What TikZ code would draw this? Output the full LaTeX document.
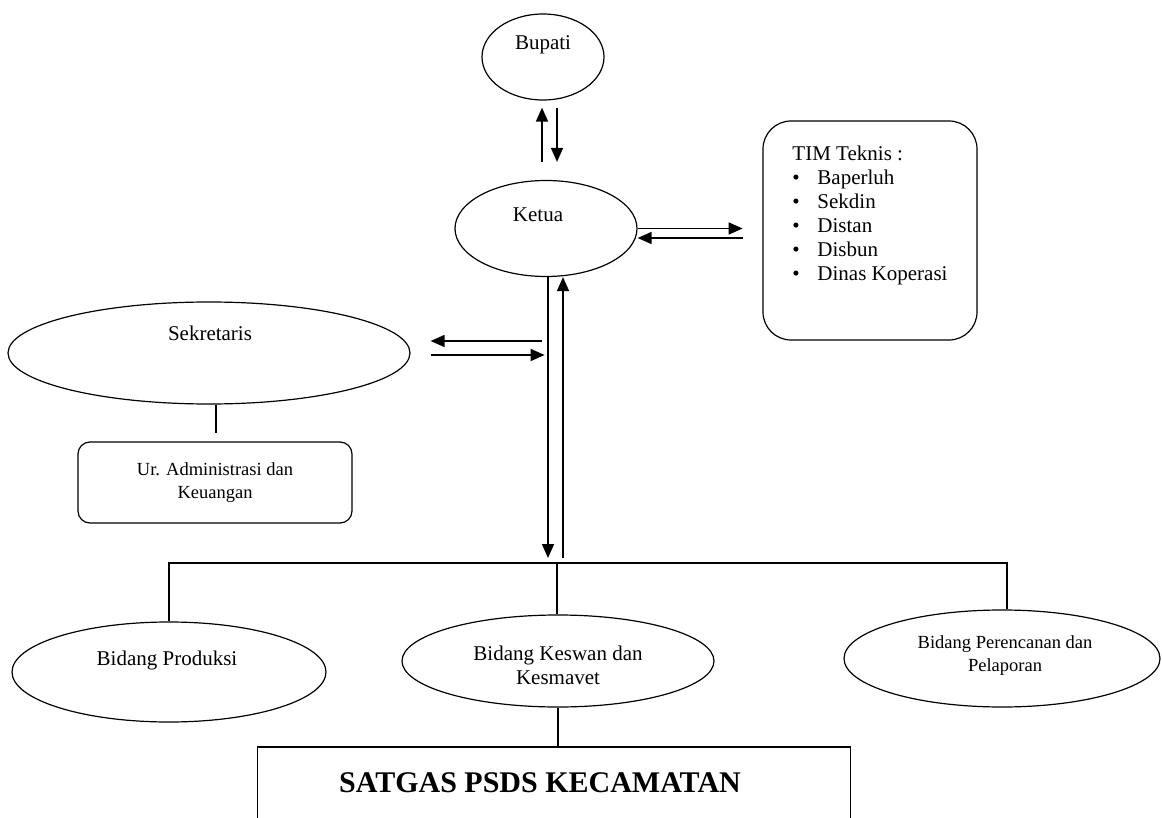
\documentclass[tikz,border=0pt]{standalone}
\usepackage{fontspec}
\setmainfont{Liberation Serif}
\usetikzlibrary{shapes.geometric,arrows.meta,calc}

\tikzset{
  oval/.style={ellipse, draw, line width=1.2pt, inner sep=0pt},
  roundbox/.style={rectangle, draw, rounded corners=#1, line width=1.2pt, inner sep=0pt},
  arr/.style={line width=1.6pt, -{Triangle[length=14pt,width=12pt]}},
  link/.style={line width=1.2pt},
  txt/.style={font=\fontsize{21}{24}\selectfont},
  smalltxt/.style={font=\fontsize{18.5}{23}\selectfont}
}

\begin{document}
\begin{tikzpicture}[x=1pt,y=-1pt]
    \useasboundingbox (0,0) rectangle (1162,818);

    % top of the chart
    \node[oval, minimum width=122pt, minimum height=86pt,
      label={[txt,yshift=12pt]center:Bupati}] (bupati) at (543,57) {};
    \node[oval, minimum width=182pt, minimum height=96pt,
      label={[txt,xshift=-8pt,yshift=13.5pt]center:Ketua}] (ketua) at (546,228.5) {};
    \node[roundbox=28pt, minimum width=214pt, minimum height=219pt,
      label={[txt,align=left,yshift=15pt]center:{TIM Teknis :\\
          \makebox[25pt][l]{\textbullet}Baperluh\\
          \makebox[25pt][l]{\textbullet}Sekdin\\
          \makebox[25pt][l]{\textbullet}Distan\\
          \makebox[25pt][l]{\textbullet}Disbun\\
          \makebox[25pt][l]{\textbullet}Dinas Koperasi}}] (tim) at (870,230.5) {};

    % sekretariat
    \node[oval, minimum width=402pt, minimum height=102pt,
      label={[txt,xshift=1pt,yshift=20pt]center:Sekretaris}] (sekr) at (209,353) {};
    \node[roundbox=12pt, smalltxt, align=center, minimum width=274pt,
      minimum height=81pt] (adm) at (215,482.5) {Ur. Administrasi dan\\ Keuangan};
    \coordinate (admtop) at (216,433);

    % bidang
    \node[oval, minimum width=314pt, minimum height=100pt,
      label={[txt,xshift=-2pt,yshift=12pt]center:Bidang Produksi}] (prod) at (169,672) {};
    \node[oval, minimum width=312pt, minimum height=92pt,
      label={[txt,align=center,yshift=-4pt]center:{Bidang Keswan dan\\ Kesmavet}}] (keswan) at (558,661) {};
    \node[oval, minimum width=316pt, minimum height=97pt,
      label={[smalltxt,align=center,xshift=3pt,yshift=2.5pt]center:{Bidang Perencanan dan\\ Pelaporan}}] (rencana) at (1002,658.5) {};
    \coordinate (bus) at (557,563);

    \node[anchor=north, minimum width=592pt, minimum height=71pt, inner sep=0pt,
      label={[font=\fontsize{30}{36}\selectfont\bfseries,xshift=-14pt]center:SATGAS PSDS KECAMATAN}] (satgas) at (554,747) {};

    % arrows
    \draw[arr] ($(ketua.north)+(-4,-18)$) -- ($(bupati.south)+(-1,7)$);
    \draw[arr] ($(bupati.south)+(14,7)$) -- ($(ketua.north)+(11,-18)$);

    \draw[arr] (ketua.east) -- ++(105,0);
    \draw[arr] ($(ketua.east)+(105,9.5)$) -- ($(ketua.east)+(0,9.5)$);

    \draw[arr] ($(sekr.east)+(131,-12)$) -- ($(sekr.east)+(20,-12)$);
    \draw[arr] ($(sekr.east)+(20,2)$) -- ($(sekr.east)+(134,2)$);

    \draw[arr] ([xshift=2pt]ketua.south) -- ([shift={(-9,-5)}]bus);
    \draw[arr] ([shift={(6,-5)}]bus) -- ([xshift=17pt]ketua.south);

    % plain lines
    \draw[link] (admtop |- sekr.south) -- (admtop);
    \draw[link] (prod.north) |- (bus) -| ([xshift=5pt]rencana.north);
    \draw[link] (bus) -- (bus |- keswan.north);
    \draw[link] (keswan.south) -- (keswan.south |- satgas.north);
    \draw[link] (satgas.south west) |- (satgas.north) -| (satgas.south east);
\end{tikzpicture}
\end{document}
